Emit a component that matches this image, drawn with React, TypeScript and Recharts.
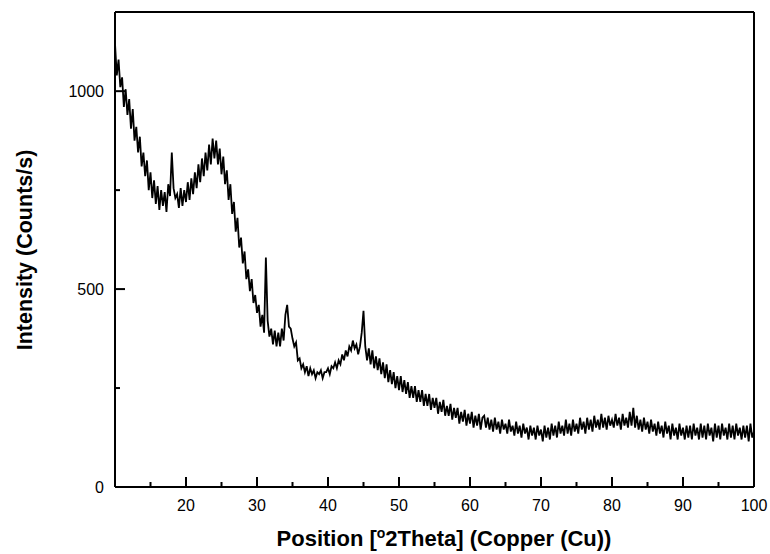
import { LineChart, Line, XAxis, YAxis, ReferenceLine } from 'recharts'

// 2θ sampling: start angle and step in degrees
const startAngle = 10
const step = 0.25

// intensity (counts/s), 4 samples per degree from 10° to 100°
const intensity = [
  1120, 1040, 1080, 1010, 1035, 960, 1005, 940, 980, 905, 955, 875, 910, 845, 885, 810,
  845, 785, 825, 750, 795, 730, 775, 715, 760, 700, 750, 710, 745, 695, 765, 735,
  845, 755, 730, 740, 705, 755, 710, 750, 720, 770, 725, 780, 740, 795, 755, 815,
  770, 830, 785, 845, 800, 865, 815, 880, 830, 875, 815, 855, 790, 835, 765, 800,
  725, 765, 690, 720, 645, 680, 605, 630, 565, 595, 525, 550, 495, 525, 465, 485,
  440, 460, 405, 435, 390, 580, 420, 380, 400, 360, 395, 355, 390, 355, 400, 370,
  435, 460, 405, 400, 375, 355, 365, 320, 325, 300, 310, 290, 305, 280, 300, 285,
  295, 275, 290, 285, 295, 275, 290, 290, 300, 285, 305, 300, 315, 300, 320, 310,
  335, 320, 345, 330, 355, 345, 370, 350, 360, 335, 355, 390, 445, 355, 320, 350,
  310, 345, 300, 330, 295, 325, 285, 315, 275, 310, 265, 295, 260, 290, 250, 280,
  245, 280, 240, 270, 235, 265, 225, 255, 225, 255, 215, 245, 215, 245, 205, 235,
  205, 235, 195, 225, 200, 225, 185, 215, 190, 220, 180, 205, 180, 210, 170, 200,
  175, 200, 160, 190, 165, 195, 155, 185, 160, 190, 150, 180, 155, 185, 145, 175,
  180, 150, 175, 145, 170, 140, 175, 145, 165, 135, 170, 145, 160, 135, 170, 140,
  155, 130, 165, 135, 155, 125, 160, 135, 150, 120, 155, 130, 150, 120, 155, 130,
  145, 115, 155, 125, 150, 120, 160, 130, 155, 125, 165, 135, 155, 130, 170, 135,
  160, 130, 170, 140, 160, 135, 175, 145, 165, 135, 175, 145, 170, 140, 180, 150,
  170, 145, 185, 150, 175, 145, 180, 155, 170, 150, 185, 155, 175, 145, 185, 155,
  175, 150, 190, 155, 200, 150, 180, 145, 170, 140, 175, 145, 165, 135, 170, 140,
  160, 130, 165, 135, 155, 125, 165, 135, 155, 120, 160, 130, 150, 120, 160, 130,
  150, 120, 155, 125, 155, 120, 160, 130, 150, 120, 160, 125, 155, 120, 160, 130,
  150, 115, 160, 125, 155, 120, 160, 130, 150, 120, 160, 125, 155, 120, 160, 130,
  150, 120, 155, 125, 155, 115, 160, 125, 140,
]

const xTicks = [15, 20, 25, 30, 35, 40, 45, 50, 55, 60, 65, 70, 75, 80, 85, 90, 95, 100]
const yTicks = [0, 250, 500, 750, 1000]
const xLabels = [20, 30, 40, 50, 60, 70, 80, 90, 100]
const yLabels = [0, 500, 1000]

const data = intensity.map((v, i) => ({ angle: startAngle + i * step, counts: v }))

const font = '"Liberation Sans", Arial, sans-serif'

function BottomTick(props: any) {
  const { x, y, payload } = props
  const major = xLabels.includes(payload.value)
  const len = major ? 10 : 5
  return (
    <g>
      <rect x={Number(x) - 1} y={Number(y) - len} width={2} height={len} fill='#000' />
      {major && (
        <text x={x} y={Number(y) + 24} textAnchor='middle' fontSize={16} fontFamily={font} fill='#000'>
          {payload.value}
        </text>
      )}
    </g>
  )
}

function LeftTick(props: any) {
  const { x, y, payload } = props
  const major = yLabels.includes(payload.value)
  const len = major ? 10 : 5
  return (
    <g>
      <rect x={Number(x)} y={Number(y) - 1} width={len} height={2} fill='#000' />
      {major && (
        <text x={Number(x) - 11} y={Number(y) + 6} textAnchor='end' fontSize={16} fontFamily={font} fill='#000'>
          {payload.value}
        </text>
      )}
    </g>
  )
}

export default function App() {
  return (
    <div style={{ position: 'absolute', left: 0, top: 0, width: 770, height: 554, background: '#fff' }}>
      <LineChart width={770} height={554} data={data} margin={{ top: 12, right: 16, bottom: 0, left: 0 }}>
        <XAxis
          dataKey='angle'
          type='number'
          domain={[10, 100]}
          ticks={xTicks}
          tickSize={0}
          tickMargin={0}
          tickLine={false}
          tick={<BottomTick />}
          height={67}
          axisLine={{ stroke: '#000', strokeWidth: 2 }}
          interval={0}
          allowDataOverflow
        />
        <YAxis
          type='number'
          domain={[0, 1200]}
          ticks={yTicks}
          tickSize={0}
          tickMargin={0}
          tickLine={false}
          tick={<LeftTick />}
          width={115}
          axisLine={{ stroke: '#000', strokeWidth: 2 }}
          interval={0}
          allowDataOverflow
        />
        <ReferenceLine y={1200} stroke='#000' strokeWidth={2} />
        <ReferenceLine x={100} stroke='#000' strokeWidth={2} />
        <Line
          dataKey='counts'
          type='linear'
          stroke='#000'
          strokeWidth={1.8}
          dot={false}
          isAnimationActive={false}
        />
      </LineChart>
      <div
        style={{
          position: 'absolute',
          left: 0,
          width: 888,
          top: 527,
          textAlign: 'center',
          fontFamily: font,
          fontWeight: 'bold',
          fontSize: 22,
          lineHeight: '24px',
          color: '#000',
          whiteSpace: 'nowrap',
        }}
      >
        Position [<sup style={{ fontSize: 14, lineHeight: 0 }}>o</sup>2Theta] (Copper (Cu))
      </div>
      <div
        style={{
          position: 'absolute',
          left: 25,
          top: 250,
          transform: 'translate(-50%, -50%) rotate(-90deg)',
          fontFamily: font,
          fontWeight: 'bold',
          fontSize: 21.5,
          color: '#000',
          whiteSpace: 'nowrap',
        }}
      >
        Intensity (Counts/s)
      </div>
    </div>
  )
}
